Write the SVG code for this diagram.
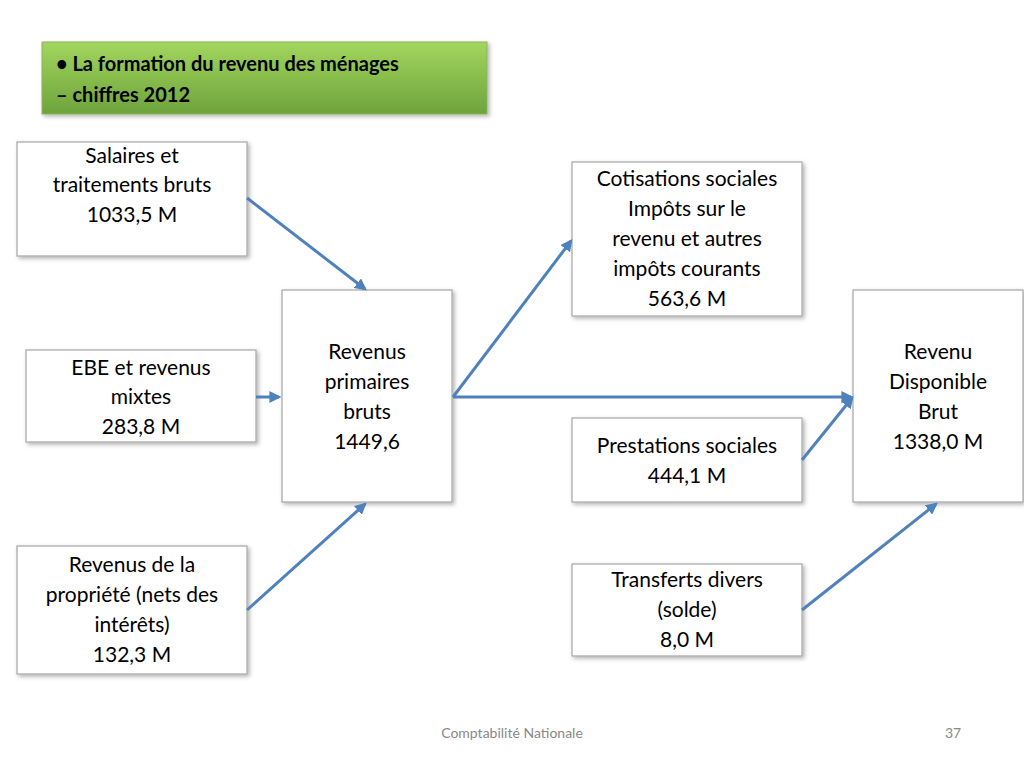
<svg xmlns="http://www.w3.org/2000/svg" width="1024" height="768" viewBox="0 0 1024 768">
<style>
.b{fill:#fff;stroke:#a6a6a6;stroke-width:1.2}
.t{font-family:Lato,"Open Sans",sans-serif;font-size:21px;fill:#000;text-anchor:middle}
.c{stroke:#4f81bd;stroke-width:3;fill:none;marker-end:url(#a)}
.f{font-family:Lato,"Open Sans",sans-serif;font-size:14px;fill:#888}
</style>
<defs>
<linearGradient id="g" x1="0" y1="0" x2="0" y2="1"><stop offset="0" stop-color="#a2d65e"/><stop offset="1" stop-color="#6ea33c"/></linearGradient>
<marker id="a" viewBox="0 0 10 10" refX="8" refY="5" markerWidth="4" markerHeight="4" orient="auto"><path d="M0,0L10,5L0,10z" fill="#4f81bd"/></marker>
<filter id="s"><feDropShadow dx="2" dy="2" stdDeviation="2" flood-opacity="0.3"/></filter>
</defs>
<rect width="1024" height="768" fill="#fff"/>
<g id="title"><rect x="42" y="42" width="445" height="72" fill="url(#g)" stroke="#8ab35a" filter="url(#s)"/>
<text x="56" y="71" font-family="Lato,'Open Sans',sans-serif" font-size="20" font-weight="bold">• La formation du revenu des ménages</text>
<text x="56" y="102" font-family="Lato,'Open Sans',sans-serif" font-size="20" font-weight="bold">– chiffres 2012</text></g>
<g id="salaires"><rect class="b" x="17" y="142" width="230" height="114" filter="url(#s)"/><text class="t"><tspan x="132" y="163">Salaires et</tspan><tspan x="132" y="192">traitements bruts</tspan><tspan x="132" y="222">1033,5 M</tspan></text></g>
<g id="ebe"><rect class="b" x="26" y="350" width="230" height="92" filter="url(#s)"/><text class="t"><tspan x="141" y="375">EBE et revenus</tspan><tspan x="141" y="404">mixtes</tspan><tspan x="141" y="434">283,8 M</tspan></text></g>
<g id="propriete"><rect class="b" x="17" y="546" width="230" height="128" filter="url(#s)"/><text class="t"><tspan x="132" y="572">Revenus de la</tspan><tspan x="132" y="602">propriété (nets des</tspan><tspan x="132" y="632">intérêts)</tspan><tspan x="132" y="662">132,3 M</tspan></text></g>
<g id="primaires"><rect class="b" x="282" y="290" width="170" height="212" filter="url(#s)"/><text class="t"><tspan x="367" y="359">Revenus</tspan><tspan x="367" y="389">primaires</tspan><tspan x="367" y="419">bruts</tspan><tspan x="367" y="449">1449,6</tspan></text></g>
<g id="cotisations"><rect class="b" x="572" y="162" width="230" height="154" filter="url(#s)"/><text class="t"><tspan x="687" y="186">Cotisations sociales</tspan><tspan x="687" y="216">Impôts sur le</tspan><tspan x="687" y="246">revenu et autres</tspan><tspan x="687" y="276">impôts courants</tspan><tspan x="687" y="306">563,6 M</tspan></text></g>
<g id="prestations"><rect class="b" x="572" y="418" width="230" height="84" filter="url(#s)"/><text class="t"><tspan x="687" y="453">Prestations sociales</tspan><tspan x="687" y="483">444,1 M</tspan></text></g>
<g id="transferts"><rect class="b" x="572" y="564" width="230" height="92" filter="url(#s)"/><text class="t"><tspan x="687" y="587">Transferts divers</tspan><tspan x="687" y="617">(solde)</tspan><tspan x="687" y="647">8,0 M</tspan></text></g>
<g id="rdb"><rect class="b" x="853" y="290" width="170" height="212" filter="url(#s)"/><text class="t"><tspan x="938" y="359">Revenu</tspan><tspan x="938" y="389">Disponible</tspan><tspan x="938" y="419">Brut</tspan><tspan x="938" y="449">1338,0 M</tspan></text></g>
<g id="connectors">
<line class="c" x1="247" y1="198" x2="365" y2="289"/>
<line class="c" x1="256" y1="397" x2="279" y2="397"/>
<line class="c" x1="247" y1="610" x2="365" y2="504"/>
<line class="c" x1="453" y1="397" x2="571" y2="241"/>
<line class="c" x1="453" y1="397" x2="851" y2="397"/>
<line class="c" x1="802" y1="460" x2="852" y2="398"/>
<line class="c" x1="802" y1="610" x2="936" y2="504"/>
</g>
<text class="f" x="512" y="738" text-anchor="middle">Comptabilité Nationale</text>
<text class="f" x="953" y="738" text-anchor="middle">37</text>
</svg>
